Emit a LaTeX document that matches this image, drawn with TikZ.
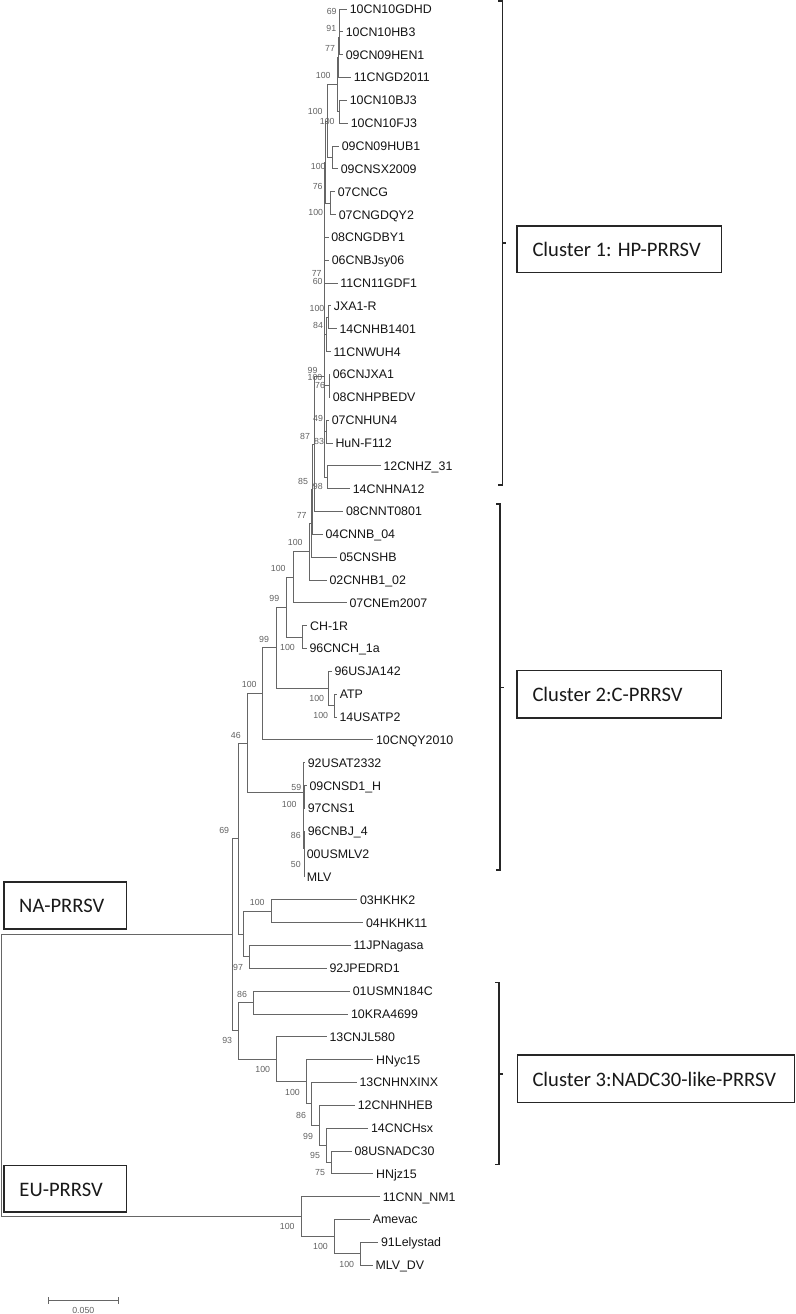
\documentclass[tikz,border=0pt]{standalone}
\usepackage{fontspec}
\setmainfont{Liberation Sans}
\newfontfamily\calfont{Carlito}
\begin{document}
\begin{tikzpicture}[x=1pt,y=-1pt,
  br/.style={draw=black!60, line width=0.9pt},
  leaf/.style={anchor=west, inner xsep=2.6pt, inner ysep=0pt, font=\fontsize{12.4}{13}\selectfont, text height=8.9pt, text depth=0pt, text=black!92},
  bs/.style={inner sep=0pt, font=\fontsize{8.8}{9}\selectfont, text=black!62, text height=6.4pt, text depth=0pt},
  clbox/.style={draw=black!85, line width=1.2pt, anchor=north west, inner sep=0pt},
  cltext/.style={anchor=west, inner sep=0pt, font=\calfont\fontsize{20.6}{22}\selectfont, text=black!90, text height=13.3pt, text depth=0pt},
  brk/.style={draw=black!85, line width=1.5pt}
]
\useasboundingbox (0,0) rectangle (795,1314);
% ---------- leaves ----------
\node[leaf] (l0) at (347,9.0) {10CN10GDHD};
\node[leaf] (l1) at (343,31.8) {10CN10HB3};
\node[leaf] (l2) at (343,54.7) {09CN09HEN1};
\node[leaf] (l3) at (351,77.5) {11CNGD2011};
\node[leaf] (l4) at (347,100.4) {10CN10BJ3};
\node[leaf] (l5) at (348,123.2) {10CN10FJ3};
\node[leaf] (l6) at (339,146.0) {09CN09HUB1};
\node[leaf] (l7) at (338,168.9) {09CNSX2009};
\node[leaf] (l8) at (335,191.7) {07CNCG};
\node[leaf] (l9) at (336,214.6) {07CNGDQY2};
\node[leaf] (l10) at (328.5,237.4) {08CNGDBY1};
\node[leaf] (l11) at (329,260.2) {06CNBJsy06};
\node[leaf] (l12) at (337.5,283.1) {11CN11GDF1};
\node[leaf] (l13) at (331,305.9) {JXA1-R};
\node[leaf] (l14) at (336.7,328.8) {14CNHB1401};
\node[leaf] (l15) at (330.7,351.6) {11CNWUH4};
\node[leaf] (l16) at (330,374.4) {06CNJXA1};
\node[leaf] (l17) at (330,397.3) {08CNHPBEDV};
\node[leaf] (l18) at (329,420.1) {07CNHUN4};
\node[leaf] (l19) at (332.7,443.0) {HuN-F112};
\node[leaf] (l20) at (380.7,465.8) {12CNHZ\_31};
\node[leaf] (l21) at (350,488.6) {14CNHNA12};
\node[leaf] (l22) at (343.3,511.5) {08CNNT0801};
\node[leaf] (l23) at (322.7,534.3) {04CNNB\_04};
\node[leaf] (l24) at (336.7,557.2) {05CNSHB};
\node[leaf] (l25) at (326.7,580.0) {02CNHB1\_02};
\node[leaf] (l26) at (346.7,602.8) {07CNEm2007};
\node[leaf] (l27) at (307.3,625.7) {CH-1R};
\node[leaf] (l28) at (306.7,648.5) {96CNCH\_1a};
\node[leaf] (l29) at (331.7,671.4) {96USJA142};
\node[leaf] (l30) at (337,694.2) {ATP};
\node[leaf] (l31) at (336.7,717.0) {14USATP2};
\node[leaf] (l32) at (373.3,739.9) {10CNQY2010};
\node[leaf] (l33) at (305,762.7) {92USAT2332};
\node[leaf] (l34) at (306.7,785.6) {09CNSD1\_H};
\node[leaf] (l35) at (305,808.4) {97CNS1};
\node[leaf] (l36) at (305,831.2) {96CNBJ\_4};
\node[leaf] (l37) at (304,854.1) {00USMLV2};
\node[leaf] (l38) at (304,876.9) {MLV};
\node[leaf] (l39) at (357.3,899.8) {03HKHK2};
\node[leaf] (l40) at (363.3,922.6) {04HKHK11};
\node[leaf] (l41) at (350.7,945.4) {11JPNagasa};
\node[leaf] (l42) at (326.7,968.3) {92JPEDRD1};
\node[leaf] (l43) at (350,991.1) {01USMN184C};
\node[leaf] (l44) at (348.3,1014.0) {10KRA4699};
\node[leaf] (l45) at (326.7,1036.8) {13CNJL580};
\node[leaf] (l46) at (373.3,1059.6) {HNyc15};
\node[leaf] (l47) at (356.7,1082.5) {13CNHNXINX};
\node[leaf] (l48) at (355,1105.3) {12CNHNHEB};
\node[leaf] (l49) at (368.3,1128.2) {14CNCHsx};
\node[leaf] (l50) at (351.7,1151.0) {08USNADC30};
\node[leaf] (l51) at (373.3,1173.8) {HNjz15};
\node[leaf] (l52) at (380,1196.7) {11CNN\_NM1};
\node[leaf] (l53) at (370,1219.5) {Amevac};
\node[leaf] (l54) at (378.3,1242.4) {91Lelystad};
\node[leaf] (l55) at (372.7,1265.2) {MLV\_DV};
% ---------- internal nodes ----------
\coordinate (t69) at (339.5,20.4);
\coordinate (t91) at (339.0,37.6);
\coordinate (t77) at (338.3,57.5);
\coordinate (tBJ) at (339,111.8);
\coordinate (t100) at (337.3,84.7);
\coordinate (tHUB) at (332.7,157.5);
\coordinate (t100u) at (327,121.1);
\coordinate (tCG) at (330.7,203.2);
\coordinate (L1) at (325.7,162.1);
\coordinate (nJX2) at (328.3,317.4);
\coordinate (nJX) at (326.7,334.5);
\coordinate (nJA) at (329,385.9);
\coordinate (nHU) at (326.7,431.6);
\coordinate (n98) at (327.7,477.2);
\coordinate (nHP) at (324,376.7);
\coordinate (nLow1) at (314.3,444.1);
\coordinate (nLow2) at (312.5,489.2);
\coordinate (nLow3) at (311,523.2);
\coordinate (n100c) at (309.3,551.6);
\coordinate (n100r) at (293.3,577.2);
\coordinate (nCH) at (302.7,637.1);
\coordinate (n99b) at (286,607.2);
\coordinate (nATP2) at (334.3,705.6);
\coordinate (nATP) at (328.3,688.5);
\coordinate (n99a) at (276,647.8);
\coordinate (n100q) at (262.7,693.9);
\coordinate (n59) at (304.3,797.0);
\coordinate (nM5) at (304.3,865.5);
\coordinate (nM4) at (304,848.4);
\coordinate (nM2) at (303.7,822.7);
\coordinate (nMLV) at (303.3,792.7);
\coordinate (n46) at (247.7,743.3);
\coordinate (nHK) at (271.7,911.2);
\coordinate (nJP) at (249.3,956.9);
\coordinate (nHJ) at (243,934.0);
\coordinate (n69) at (238.7,838.7);
\coordinate (n86) at (253.3,1002.6);
\coordinate (nC3g) at (331,1162.4);
\coordinate (nC3f) at (326,1145.3);
\coordinate (nC3e) at (319.3,1125.3);
\coordinate (nC3d) at (311.7,1103.9);
\coordinate (nC3c) at (306,1081.8);
\coordinate (nC3b) at (276.7,1059.3);
\coordinate (n93) at (238.3,1030.9);
\coordinate (nNA) at (232.3,934.8);
\coordinate (nEU3) at (360.7,1253.8);
\coordinate (nEU2) at (334.3,1236.7);
\coordinate (nEU) at (301.7,1216.7);
\coordinate (root) at (1,1075.7);
% ---------- branches ----------
\draw[br]
 (t69) |- (l0.west) (t69) |- (l1.west)
 (t91) |- (t69) (t91) |- (l2.west)
 (t77) |- (t91) (t77) |- (l3.west)
 (tBJ) |- (l4.west) (tBJ) |- (l5.west)
 (t100) |- (t77) (t100) |- (tBJ)
 (tHUB) |- (l6.west) (tHUB) |- (l7.west)
 (t100u) |- (t100) (t100u) |- (tHUB)
 (tCG) |- (l8.west) (tCG) |- (l9.west)
 (L1) |- (t100u) (L1) |- (tCG)
 (nJX2) |- (l13.west) (nJX2) |- (l14.west)
 (nJX) |- (nJX2) (nJX) |- (l15.west)
 (nJA) |- (l16.west) (nJA) |- (l17.west)
 (nHU) |- (l18.west) (nHU) |- (l19.west)
 (n98) |- (l20.west) (n98) |- (l21.west)
 (nHP) |- (L1) (nHP) |- (l10.west) (nHP) |- (l11.west) (nHP) |- (l12.west)
 (nHP) |- (nJX) (nHP) |- (nJA) (nHP) |- (nHU) (nHP) |- (n98)
 (nLow1) |- (nHP) (nLow1) |- (l22.west)
 (nLow2) |- (nLow1) (nLow2) |- (l23.west)
 (nLow3) |- (nLow2) (nLow3) |- (l24.west)
 (n100c) |- (nLow3) (n100c) |- (l25.west)
 (n100r) |- (n100c) (n100r) |- (l26.west)
 (nCH) |- (l27.west) (nCH) |- (l28.west)
 (n99b) |- (n100r) (n99b) |- (nCH)
 (nATP2) |- (l30.west) (nATP2) |- (l31.west)
 (nATP) |- (l29.west) (nATP) |- (nATP2)
 (n99a) |- (n99b) (n99a) |- (nATP)
 (n100q) |- (n99a) (n100q) |- (l32.west)
 (n59) |- (l34.west) (n59) |- (l35.west)
 (nM5) |- (l37.west) (nM5) |- (l38.west)
 (nM4) |- (l36.west) (nM4) |- (nM5)
 (nM2) |- (n59) (nM2) |- (nM4)
 (nMLV) |- (l33.west) (nMLV) |- (nM2)
 (n46) |- (n100q) (n46) |- (nMLV)
 (nHK) |- (l39.west) (nHK) |- (l40.west)
 (nJP) |- (l41.west) (nJP) |- (l42.west)
 (nHJ) |- (nHK) (nHJ) |- (nJP)
 (n69) |- (n46) (n69) |- (nHJ)
 (n86) |- (l43.west) (n86) |- (l44.west)
 (nC3g) |- (l50.west) (nC3g) |- (l51.west)
 (nC3f) |- (l49.west) (nC3f) |- (nC3g)
 (nC3e) |- (l48.west) (nC3e) |- (nC3f)
 (nC3d) |- (l47.west) (nC3d) |- (nC3e)
 (nC3c) |- (l46.west) (nC3c) |- (nC3d)
 (nC3b) |- (l45.west) (nC3b) |- (nC3c)
 (n93) |- (n86) (n93) |- (nC3b)
 (nNA) |- (n69) (nNA) |- (n93)
 (nEU3) |- (l54.west) (nEU3) |- (l55.west)
 (nEU2) |- (l53.west) (nEU2) |- (nEU3)
 (nEU) |- (l52.west) (nEU) |- (nEU2)
 (root) |- (nNA) (root) |- (nEU);
% ---------- bootstrap values ----------
\node[bs] (b1) at (331.7,11.7) {69};
\node[bs] (b2) at (331.3,28.3) {91};
\node[bs] (b3) at (330,48.3) {77};
\node[bs] (b4) at (323.3,75) {100};
\node[bs] (b5) at (315.3,111.7) {100};
\node[bs] (b6) at (327.2,121.7) {100};
\node[bs] (b7) at (318.3,166.7) {100};
\node[bs] (b8) at (317.7,186.7) {76};
\node[bs] (b9) at (315.8,212.7) {100};
\node[bs] (b10) at (316.7,273) {77};
\node[bs] (b11) at (317.7,281.7) {60};
\node[bs] (b12) at (317,308.3) {100};
\node[bs] (b13) at (318,325) {84};
\node[bs] (b14) at (312.5,370.2) {99};
\node[bs] (b15) at (315,377.6) {100};
\node[bs] (b16) at (320,385) {76};
\node[bs] (b17) at (318,418.3) {49};
\node[bs] (b18) at (305,436.7) {87};
\node[bs] (b19) at (319,441.7) {83};
\node[bs] (b20) at (303,481.7) {85};
\node[bs] (b21) at (317.8,486.7) {98};
\node[bs] (b22) at (301.7,515) {77};
\node[bs] (b23) at (295.2,542.7) {100};
\node[bs] (b24) at (278.3,568.3) {100};
\node[bs] (b25) at (274.3,598.3) {99};
\node[bs] (b26) at (264,639.3) {99};
\node[bs] (b27) at (287.5,647.3) {100};
\node[bs] (b28) at (249.2,684.3) {100};
\node[bs] (b29) at (316.8,698.7) {100};
\node[bs] (b30) at (320.8,715) {100};
\node[bs] (b31) at (235.8,735) {46};
\node[bs] (b32) at (296.3,787.3) {59};
\node[bs] (b33) at (289.2,804.5) {100};
\node[bs] (b34) at (224.2,830) {69};
\node[bs] (b35) at (295.8,835) {86};
\node[bs] (b36) at (295.8,864) {50};
\node[bs] (b37) at (257.2,902.7) {100};
\node[bs] (b38) at (238,967.3) {97};
\node[bs] (b39) at (242,994) {86};
\node[bs] (b40) at (227.2,1040.7) {93};
\node[bs] (b41) at (262.8,1069.3) {100};
\node[bs] (b42) at (292.5,1092.2) {100};
\node[bs] (b43) at (301,1115) {86};
\node[bs] (b44) at (308,1136) {99};
\node[bs] (b45) at (315,1155) {95};
\node[bs] (b46) at (320,1172.3) {75};
\node[bs] (b47) at (287.2,1226.7) {100};
\node[bs] (b48) at (320.5,1246.7) {100};
\node[bs] (b49) at (346.8,1264) {100};
% ---------- scale bar ----------
\coordinate (sbA) at (48.3,1300.7);
\coordinate (sbB) at (118.3,1300.7);
\draw[br] (sbA) -- (sbB)
  ([yshift=3.3pt]sbA) -- ([yshift=-3.3pt]sbA)
  ([yshift=3.3pt]sbB) -- ([yshift=-3.3pt]sbB);
\node[bs] (sbl) at (83.3,1310) {0.050};
% ---------- brackets ----------
\draw[brk] (498.3,1) -- (502.3,1) -- (502.3,485) -- (498.3,485);
\draw[brk] (502.3,243) -- (506.3,243);
\draw[brk] (496,504) -- (500,504) -- (500,870) -- (496,870);
\draw[brk] (500,687.3) -- (504,687.3);
\draw[brk] (495,982.7) -- (499,982.7) -- (499,1164.3) -- (495,1164.3);
\draw[brk] (499,1074) -- (503,1074);
% ---------- label boxes ----------
\node[clbox, minimum width=204.4pt, minimum height=46.7pt] (c1box) at (516.3,225.3) {};
\node[cltext] (c1t) at ([xshift=16pt,yshift=-0.8pt]c1box.west) {Cluster 1: HP-PRRSV};
\node[clbox, minimum width=204.4pt, minimum height=47.3pt] (c2box) at (516.3,670) {};
\node[cltext] (c2t) at ([xshift=16pt,yshift=-0.8pt]c2box.west) {Cluster 2:C-PRRSV};
\node[clbox, minimum width=277.3pt, minimum height=47.4pt] (c3box) at (516.7,1054.3) {};
\node[cltext] (c3t) at ([xshift=15.6pt,yshift=-0.8pt]c3box.west) {Cluster 3:NADC30-like-PRRSV};
\node[clbox, minimum width=122.7pt, minimum height=47pt] (nabox) at (3.3,881.3) {};
\node[cltext] (nat) at ([xshift=15.7pt,yshift=-0.8pt]nabox.west) {NA-PRRSV};
\node[clbox, minimum width=122.7pt, minimum height=46.6pt] (eubox) at (3.3,1164.7) {};
\node[cltext] (eut) at ([xshift=16pt,yshift=-0.8pt]eubox.west) {EU-PRRSV};
\end{tikzpicture}
\end{document}
